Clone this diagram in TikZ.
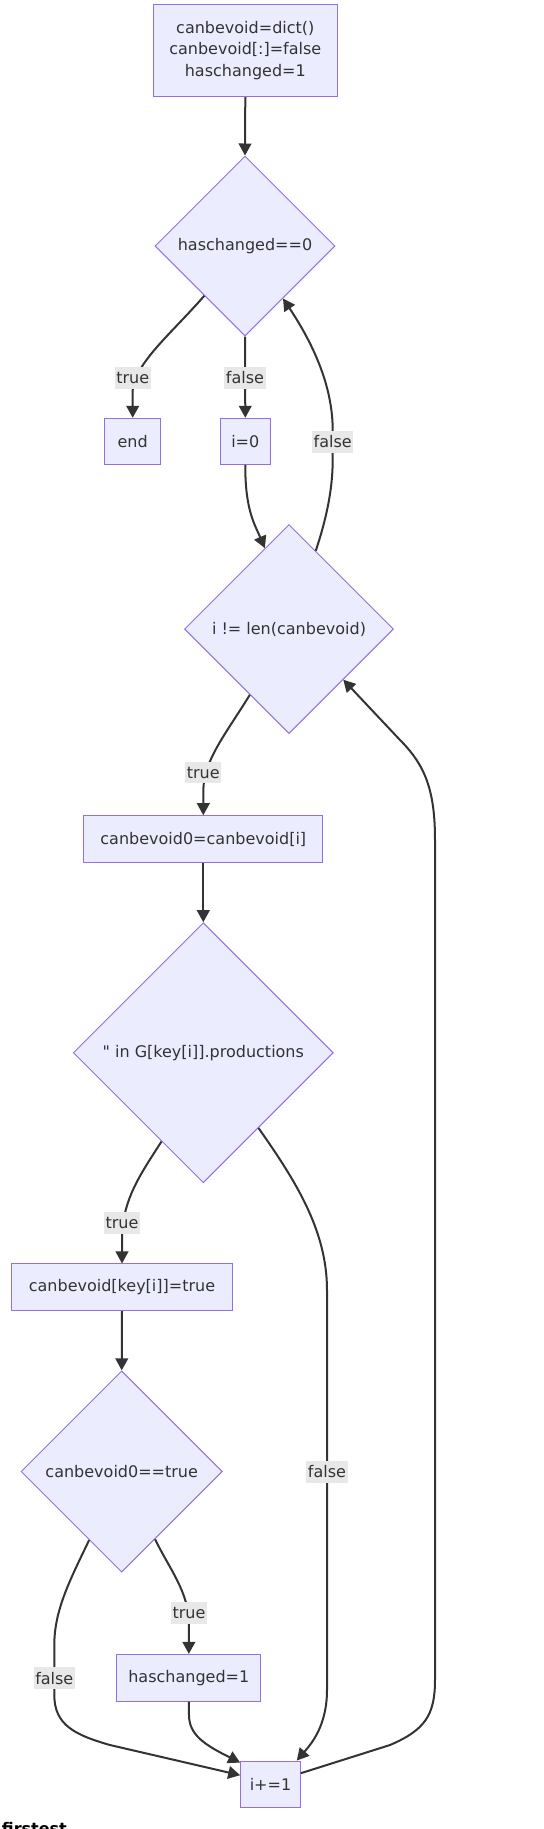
\documentclass[tikz,border=0pt]{standalone}
\usepackage{fontspec}
\setmainfont{DejaVu Sans}
\newfontfamily\qfont{DejaVu Sans}[Ligatures=ResetAll]
\usetikzlibrary{shapes.geometric,arrows.meta,calc}
\definecolor{nodefill}{HTML}{ECECFF}
\definecolor{nodeline}{HTML}{9370DB}
\definecolor{edgecol}{HTML}{333333}
\definecolor{lblbg}{HTML}{E8E8E8}
\tikzset{
  txt/.style={text=edgecol, font=\fontsize{12}{16.3}\selectfont},
  box/.style={txt, draw=nodeline, line width=0.75pt, fill=nodefill, rectangle, inner sep=0pt, align=center},
  dia/.style={txt, draw=nodeline, line width=0.75pt, fill=nodefill, diamond, aspect=1, inner sep=0pt},
  edge/.style={draw=edgecol, line width=1.5pt, -{Triangle[length=9pt,width=9.5pt]}},
  lbl/.style={txt, fill=lblbg, inner xsep=1.2pt, inner ysep=0pt, minimum height=16.3pt}
}
\begin{document}
\begin{tikzpicture}[x=0.75pt,y=-0.75pt]
\useasboundingbox (0,0) rectangle (543,1829);
\clip (0,0) rectangle (543,1829);
% nodes
\node[box, minimum width=138pt, minimum height=69.3pt] (start) at (245.3,50.5) {canbevoid=dict()\\canbevoid[:]=false\\haschanged=1};
\node[dia, minimum width=135pt, minimum height=135pt] (d1) at (245,246) {haschanged==0};
\node[box, minimum width=42pt, minimum height=34.5pt] (end) at (132.7,441.3) {end};
\node[box, minimum width=37.5pt, minimum height=34.5pt] (i0) at (245.3,441.3) {i=0};
\node[dia, minimum width=156.75pt, minimum height=156.75pt] (d2) at (289,629) {i != len(canbevoid)};
\node[box, minimum width=179pt, minimum height=35.25pt] (c0) at (203.3,839.2) {canbevoid0=canbevoid[i]};
\node[dia, minimum width=195pt, minimum height=195pt] (d3) at (203.3,1052.7) {{\qfont\symbol{34}} in G[key[i]].productions};
\node[box, minimum width=165.5pt, minimum height=35pt] (ck) at (122,1287.3) {canbevoid[key[i]]=true};
\node[dia, minimum width=151pt, minimum height=151pt] (d4) at (121.7,1471.5) {canbevoid0==true};
\node[box, minimum width=108.2pt, minimum height=35pt] (hc) at (188.8,1677.7) {haschanged=1};
\node[box, minimum width=44.7pt, minimum height=34.7pt] (inc) at (270.5,1784.2) {i+=1};
\node[anchor=base west, text=black, font=\fontsize{12}{14}\selectfont\bfseries, inner sep=0pt] (ft) at (1.7,1834) {firstest};
% edges
\draw[edge] (start.south) -- (d1.north);
\draw[edge] ($(d1.west)!0.55!(d1.south)$) .. controls (170,335) and (136,362) .. (132.7,390) -- (end.north);
\draw[edge] (d1.south) -- (i0.north);
\draw[edge] (i0.south) .. controls (245,510) and (255,525) .. ($(d2.west)!0.77!(d2.north)$);
\draw[edge] ($(d2.north)!0.255!(d2.east)$) .. controls (326,520) and (332.7,490) .. (332.7,460) -- (332.7,430) .. controls (332.7,385) and (312,342) .. ($(d1.south)!0.42!(d1.east)$);
\draw[edge] ($(d2.west)!0.627!(d2.south)$) .. controls (225,735) and (204,760) .. (203.3,790) -- (c0.north);
\draw[edge] (c0.south) -- (d3.north);
\draw[edge] ($(d3.west)!0.68!(d3.south)$) .. controls (140,1175) and (122,1200) .. (122,1240) -- (ck.north);
\draw[edge] ($(d3.south)!0.423!(d3.east)$) .. controls (295,1180) and (327,1230) .. (327,1290) -- (327,1690) .. controls (327,1725) and (312,1743) .. ($(inc.north east)+(-4,0)$);
\draw[edge] (ck.south) -- (d4.north);
\draw[edge] ($(d4.south)!0.33!(d4.east)$) .. controls (170,1570) and (189,1592) .. (189,1625) -- (hc.north);
\draw[edge] ($(d4.west)!0.678!(d4.south)$) .. controls (70,1580) and (54.3,1610) .. (54.3,1645) -- (54.3,1695) .. controls (54.3,1725) and (75,1735) .. (110,1745) -- ($(inc.west)+(0,-9)$);
\draw[edge] (hc.south) -- (189,1715) .. controls (189,1735) and (205,1745) .. ($(inc.north west)+(0,2)$);
\draw[edge] ($(inc.east)+(0,-11)$) -- (390,1745) .. controls (425,1730) and (435,1715) .. (435,1680) -- (435,840) .. controls (435,790) and (425,765) .. (400,740) -- ($(d2.south)!0.517!(d2.east)$);
% labels
\node[lbl] (l1) at (132.7,377.7) {true};
\node[lbl] (l2) at (245,377.7) {false};
\node[lbl] (l3) at (332.7,441.7) {false};
\node[lbl] (l4) at (203.3,772.6) {true};
\node[lbl] (l5) at (122,1223.3) {true};
\node[lbl] (l6) at (327,1471.7) {false};
\node[lbl] (l7) at (189,1613.3) {true};
\node[lbl] (l8) at (54.3,1678.3) {false};
\end{tikzpicture}
\end{document}
